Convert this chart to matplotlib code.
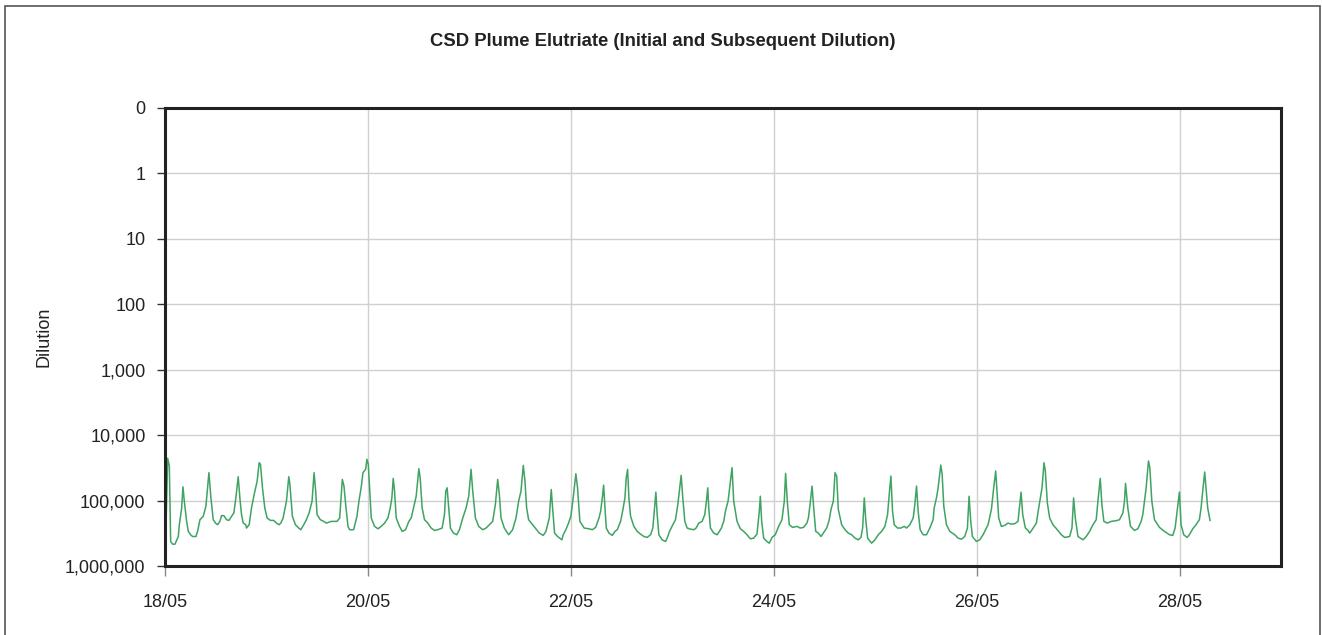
import datetime as dt
import numpy as np
import matplotlib
matplotlib.use("Agg")
import matplotlib.pyplot as plt
import matplotlib.dates as mdates
from matplotlib.patches import Rectangle

# dilution: (hours after 18/05 00:00, dilution)
readings = [
    (0.0, 1000000), (0.63, 22600), (1.02, 29600), (1.34, 422000), (1.81, 464000), (2.36, 464000),
    (3.15, 354000), (3.39, 234000), (3.94, 130000), (4.25, 61600), (4.57, 102000), (5.12, 208000),
    (5.51, 296000), (6.06, 333000), (6.53, 354000), (7.32, 354000), (7.71, 296000), (8.27, 196000),
    (9.05, 174000), (9.68, 122000), (10.39, 37500), (10.86, 90900), (11.41, 196000), (11.96, 221000),
    (12.44, 234000), (12.99, 208000), (13.38, 170000), (13.93, 170000), (14.56, 196000), (15.11, 201000),
    (15.74, 174000), (16.29, 155000), (16.76, 90900), (17.32, 43200), (17.71, 90900), (18.10, 164000),
    (18.50, 221000), (19.12, 234000), (19.28, 263000), (19.91, 234000), (20.46, 130000), (21.09, 80900),
    (21.80, 50400), (22.27, 26400), (22.59, 27900), (23.06, 63800), (23.61, 130000), (24.16, 185000),
    (24.95, 201000), (25.74, 201000), (26.37, 221000), (26.99, 234000), (27.39, 221000), (27.94, 185000),
    (28.73, 102000), (29.28, 43200), (29.51, 53500), (30.14, 174000), (30.85, 234000), (31.64, 263000),
    (32.11, 279000), (32.82, 234000), (33.45, 196000), (34.08, 155000), (34.79, 102000), (35.26, 37500),
    (35.65, 71800), (35.97, 164000), (36.75, 196000), (37.54, 208000), (38.17, 221000), (39.35, 208000),
    (40.69, 208000), (41.32, 185000), (41.95, 47500), (42.34, 60100), (42.74, 115000), (43.29, 248000),
    (43.68, 279000), (44.62, 279000), (45.41, 174000), (45.88, 102000), (46.43, 61600), (46.83, 37500),
    (47.46, 33300), (47.77, 23400), (48.09, 27900), (48.79, 185000), (49.58, 248000), (50.37, 270000),
    (51.15, 248000), (51.94, 221000), (52.73, 185000), (53.28, 130000), (53.67, 90900), (53.99, 45900),
    (54.30, 71800), (54.70, 185000), (55.48, 248000), (56.11, 296000), (56.90, 279000), (57.69, 208000),
    (58.24, 185000), (58.79, 130000), (59.42, 85800), (60.05, 32600), (60.36, 44800), (60.83, 130000),
    (61.39, 196000), (62.17, 221000), (62.96, 263000), (63.75, 286000), (64.53, 279000), (65.56, 263000),
    (66.11, 164000), (66.42, 71800), (66.74, 63800), (67.05, 115000), (67.52, 263000), (68.23, 314000),
    (69.02, 333000), (69.65, 279000), (70.44, 185000), (71.22, 130000), (71.85, 85800), (72.40, 33300),
    (72.80, 71800), (73.43, 185000), (74.21, 248000), (75.16, 279000), (75.95, 263000), (76.73, 234000),
    (77.52, 208000), (78.15, 115000), (78.70, 47500), (79.09, 80900), (79.49, 185000), (80.27, 263000),
    (81.30, 333000), (82.24, 279000), (83.03, 185000), (83.66, 102000), (84.21, 71800), (84.76, 29000),
    (85.15, 50400), (85.55, 130000), (86.02, 196000), (86.96, 234000), (87.75, 270000), (88.54, 314000),
    (89.48, 341000), (90.11, 296000), (90.90, 185000), (91.37, 67700), (91.69, 130000), (92.16, 314000),
    (92.87, 354000), (93.89, 398000), (94.20, 333000), (94.83, 279000), (95.46, 221000), (96.01, 174000),
    (96.56, 90900), (97.19, 38900), (97.59, 63800), (98.14, 208000), (99.16, 263000), (100.30, 270000),
    (101.09, 279000), (101.87, 257000), (102.66, 185000), (103.05, 146000), (103.45, 90900), (103.76, 58000),
    (104.08, 130000), (104.39, 263000), (105.02, 314000), (105.81, 341000), (106.44, 296000), (106.99, 279000),
    (107.78, 208000), (108.33, 137000), (108.80, 90900), (109.11, 44800), (109.43, 33300), (109.74, 90900),
    (110.14, 174000), (110.92, 248000), (111.71, 296000), (112.50, 326000), (113.29, 354000), (114.07, 366000),
    (114.86, 333000), (115.41, 263000), (115.80, 130000), (116.12, 74400), (116.43, 164000), (116.83, 333000),
    (117.61, 398000), (118.40, 422000), (118.79, 375000), (119.35, 296000), (120.13, 234000), (120.76, 196000),
    (121.31, 115000), (121.71, 67700), (122.10, 41200), (122.49, 90900), (122.97, 208000), (123.52, 263000),
    (124.30, 273000), (125.09, 279000), (125.64, 263000), (126.27, 221000), (127.06, 208000), (127.69, 164000),
    (128.08, 102000), (128.40, 63800), (128.63, 130000), (129.03, 263000), (129.81, 314000), (130.60, 333000),
    (131.15, 296000), (131.62, 263000), (132.17, 208000), (132.57, 146000), (133.20, 102000), (133.75, 50400),
    (134.14, 31400), (134.53, 102000), (135.32, 208000), (136.11, 270000), (136.90, 296000), (137.68, 333000),
    (138.47, 384000), (139.26, 375000), (140.04, 326000), (140.59, 146000), (140.83, 85800), (141.15, 208000),
    (141.62, 375000), (142.40, 422000), (142.96, 448000), (143.59, 366000), (144.37, 333000), (145.16, 248000),
    (145.95, 196000), (146.50, 102000), (146.81, 38400), (147.21, 102000), (147.68, 234000), (148.46, 257000),
    (149.49, 248000), (150.27, 263000), (151.06, 257000), (151.85, 221000), (152.20, 185000), (152.59, 115000),
    (153.07, 60100), (153.46, 130000), (153.93, 296000), (154.56, 314000), (155.19, 354000), (155.74, 314000),
    (156.53, 263000), (157.08, 203000), (157.55, 137000), (158.10, 102000), (158.50, 37500), (158.89, 42200),
    (159.28, 137000), (160.07, 234000), (160.86, 279000), (161.64, 314000), (162.43, 333000), (163.22, 375000),
    (164.01, 398000), (164.63, 366000), (165.03, 263000), (165.42, 90900), (165.74, 185000), (166.21, 375000),
    (167.15, 448000), (167.94, 398000), (168.73, 333000), (169.51, 296000), (170.30, 248000), (170.93, 164000),
    (171.32, 80900), (171.72, 42200), (172.11, 146000), (172.50, 234000), (173.29, 263000), (174.08, 263000),
    (174.87, 248000), (175.42, 263000), (176.20, 234000), (176.99, 185000), (177.38, 115000), (177.78, 60100),
    (178.17, 146000), (178.64, 279000), (179.35, 333000), (180.14, 333000), (180.93, 263000), (181.71, 196000),
    (181.95, 130000), (182.50, 90900), (182.89, 63800), (183.52, 28600), (183.84, 39800), (184.23, 122000),
    (184.86, 234000), (185.65, 296000), (186.83, 333000), (187.62, 375000), (188.40, 389000), (189.19, 354000),
    (189.82, 263000), (190.21, 85800), (190.61, 208000), (191.00, 354000), (191.94, 422000), (192.73, 398000),
    (193.52, 333000), (194.70, 234000), (195.49, 137000), (196.04, 63800), (196.51, 35400), (196.82, 71800),
    (197.22, 185000), (197.85, 248000), (198.63, 240000), (199.42, 221000), (200.21, 229000), (201.00, 226000),
    (201.78, 208000), (202.19, 115000), (202.51, 74400), (202.90, 164000), (203.53, 263000), (204.16, 286000),
    (204.55, 314000), (205.11, 279000), (206.13, 221000), (206.68, 130000), (207.47, 63800), (207.94, 26400),
    (208.25, 35400), (208.73, 109000), (209.28, 185000), (210.06, 234000), (211.09, 279000), (212.03, 333000),
    (212.82, 366000), (214.00, 354000), (214.55, 263000), (214.94, 90900), (215.34, 185000), (215.97, 354000),
    (217.15, 398000), (217.93, 354000), (218.72, 296000), (219.51, 234000), (220.29, 196000), (220.69, 102000),
    (221.24, 45900), (221.63, 115000), (222.10, 208000), (222.89, 221000), (223.84, 208000), (225.02, 203000),
    (225.80, 196000), (226.59, 155000), (226.98, 102000), (227.22, 54700), (227.77, 130000), (228.40, 248000),
    (229.35, 286000), (230.13, 270000), (230.92, 208000), (231.31, 164000), (231.71, 102000), (232.10, 63800),
    (232.65, 24800), (232.97, 31400), (233.44, 102000), (234.07, 196000), (235.25, 257000), (236.43, 296000),
    (237.61, 333000), (238.40, 341000), (238.95, 263000), (239.42, 146000), (239.97, 74400), (240.36, 234000),
    (240.99, 333000), (241.78, 366000), (242.33, 333000), (243.12, 270000), (243.90, 234000), (244.69, 196000),
    (245.09, 130000), (245.48, 71800), (245.95, 36600), (246.34, 71800), (246.66, 130000), (247.21, 201000),
]

y_ticks = [0.1, 1, 10, 100, 1000, 10000, 100000, 1000000]
y_labels = ["0", "1", "10", "100", "1,000", "10,000", "100,000", "1,000,000"]
x_ticks = ["2009-05-18", "2009-05-20", "2009-05-22", "2009-05-24", "2009-05-26", "2009-05-28"]
x_limits = ["2009-05-18", "2009-05-29"]

plt.rcParams['font.family'] = ['Liberation Sans', 'DejaVu Sans']

start = dt.datetime(2009, 5, 18)
hours = np.array([r[0] for r in readings])
dilution = np.array([r[1] for r in readings])
times = [start + dt.timedelta(hours=float(h)) for h in hours]

fig = plt.figure(figsize=(13.22, 6.35), dpi=100)
ax = fig.add_axes([165 / 1322, 1 - 566 / 635, (1281 - 165) / 1322, (566 - 108) / 635])

# chart border (bottom edge falls outside the picture)
fig.patches.append(Rectangle((5 / 1322, -0.05), 1315 / 1322, 1.05 - 6 / 635,
                             transform=fig.transFigure, fill=False,
                             edgecolor='#555555', linewidth=1.2))

ax.plot(times, dilution, color='#3fa363', linewidth=1.1)

ax.set_yscale('log')
ax.set_ylim(1000000, 0.1)
ax.yaxis.set_major_locator(plt.FixedLocator(y_ticks))
ax.yaxis.set_major_formatter(plt.FixedFormatter(y_labels))
ax.yaxis.set_minor_locator(plt.NullLocator())

xt = [dt.datetime.strptime(s, "%Y-%m-%d") for s in x_ticks]
ax.set_xticks(xt)
ax.xaxis.set_major_formatter(mdates.DateFormatter("%d/%m"))
ax.set_xlim(dt.datetime.strptime(x_limits[0], "%Y-%m-%d"),
            dt.datetime.strptime(x_limits[1], "%Y-%m-%d"))

ax.grid(True, color='#d0d0d0', linewidth=1.0)
ax.set_axisbelow(True)
for s in ax.spines.values():
    s.set_linewidth(2.2)
    s.set_color('#222222')

ax.tick_params(axis='y', length=6, width=1, color='#333333', labelsize=13, pad=8)
ax.tick_params(axis='x', length=7, width=1, color='#888888', labelsize=13, pad=13)
for lab in ax.get_xticklabels() + ax.get_yticklabels():
    lab.set_color('#222222')

fig.text(44 / 1322, 1 - 337 / 635, "Dilution", rotation=90, ha='center', va='center',
         fontsize=13, color='#222222')
fig.text(663 / 1322, 1 - 42 / 635, "CSD Plume Elutriate (Initial and Subsequent Dilution)",
         ha='center', va='center', fontsize=13.3, fontweight='bold', color='#222222')

fig.savefig("out.png", dpi=100)
